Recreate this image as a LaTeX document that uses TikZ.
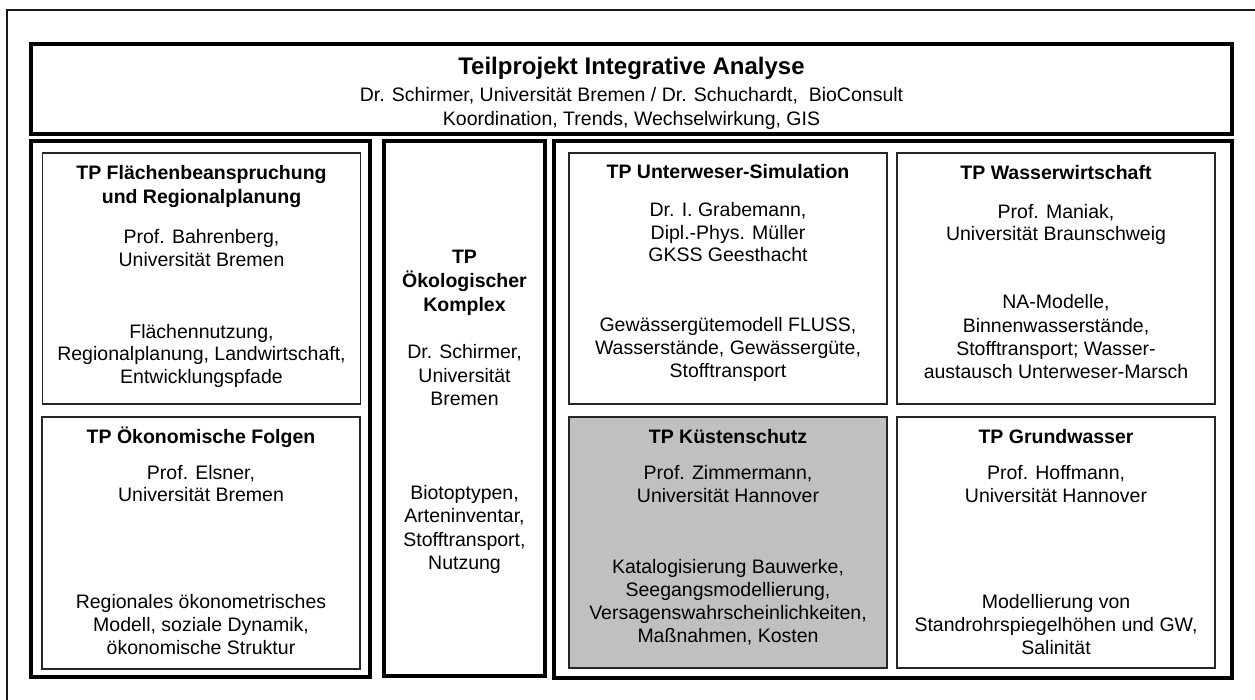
\documentclass[tikz,border=0pt]{standalone}
\usepackage{fontspec}
\setmainfont{Liberation Sans}
\newcommand\blk[2][23.3]{\vtop{\baselineskip=#1pt\lineskiplimit=-20pt\lineskip=0pt\halign{\hfil##\hfil\cr#2\crcr}}}
\definecolor{kgray}{RGB}{192,192,192}
\tikzset{
  thickbox/.style={line width=4pt, draw=black},
  thinbox/.style={line width=1.3pt, draw=black!85},
  frameline/.style={line width=2.2pt, draw=black!90},
  body/.style={anchor=base, inner sep=0pt, font=\fontsize{19.5}{23.3}\selectfont},
  head/.style={anchor=base, inner sep=0pt, font=\fontsize{19.5}{24}\selectfont\bfseries},
  ttl/.style={anchor=base, inner sep=0pt, font=\fontsize{24}{28}\selectfont\bfseries},
}
\begin{document}
\begin{tikzpicture}[x=1pt,y=-1pt]
\useasboundingbox (0,0) rectangle (1255,700);
\fill[white] (0,0) rectangle (1255,700);
% outer frame (cut off at right and bottom)
\draw[frameline] (1260,10) -- (7,10) -- (7,705);
% thick group boxes
\draw[thickbox] (31,44) rectangle (1232,134);
\draw[thickbox] (31,141) rectangle (370,677);
\draw[thickbox] (384,141) rectangle (545,676);
\draw[thickbox] (554,141) rectangle (1232,678);
% thin boxes
\draw[thinbox] (42.5,153) rectangle (360.5,404);
\draw[thinbox] (42,417) rectangle (360,669);
\draw[thinbox] (569,153) rectangle (887,404);
\draw[thinbox, fill=kgray] (569,417) rectangle (887,668);
\draw[thinbox] (897,153) rectangle (1215,404);
\draw[thinbox] (897,417) rectangle (1215,668);
% top box texts
\node[ttl] (title) at (631.5,75) {Teilprojekt Integrative Analyse};
\node[body] (lead) at (631.5,102) {\blk[24]{Dr. Schirmer, Universität Bremen / Dr. Schuchardt,\ \ BioConsult\cr Koordination, Trends, Wechselwirkung, GIS}};
% Flaechenbeanspruchung
\node[head] (h1) at (201.5,180) {\blk[24]{TP Flächenbeanspruchung\cr und Regionalplanung}};
\node[body] (p1) at (201.5,244) {\blk[22.5]{Prof. Bahrenberg,\cr Universität Bremen}};
\node[body] (t1) at (201.5,338) {\blk[22.5]{Flächennutzung,\cr Regionalplanung, Landwirtschaft,\cr Entwicklungspfade}};
% Oekonomische Folgen
\node[head] (h2) at (201,443) {TP Ökonomische Folgen};
\node[body] (p2) at (201,479) {\blk[22.5]{Prof. Elsner,\cr Universität Bremen}};
\node[body] (t2) at (201,608) {\blk{Regionales ökonometrisches\cr Modell, soziale Dynamik,\cr ökonomische Struktur}};
% Oekologischer Komplex
\node[head] (h3) at (464.5,264) {\blk[24]{TP\cr Ökologischer\cr Komplex}};
\node[body] (p3) at (464.5,359) {\blk{Dr. Schirmer,\cr Universität\cr Bremen}};
\node[body] (t3) at (464.5,499) {\blk[23.6]{Biotoptypen,\cr Arteninventar,\cr Stofftransport,\cr Nutzung}};
% Unterweser-Simulation
\node[head] (h4) at (728,179) {TP Unterweser-Simulation};
\node[body] (p4) at (728,217) {\blk[22.3]{Dr. I. Grabemann,\cr Dipl.-Phys. Müller\cr GKSS Geesthacht}};
\node[body] (t4) at (728,332) {\blk[23]{Gewässergütemodell FLUSS,\cr Wasserstände, Gewässergüte,\cr Stofftransport}};
% Kuestenschutz
\node[head] (h5) at (728,443) {TP Küstenschutz};
\node[body] (p5) at (728,479) {\blk{Prof. Zimmermann,\cr Universität Hannover}};
\node[body] (t5) at (728,573) {\blk{Katalogisierung Bauwerke,\cr Seegangsmodellierung,\cr Versagenswahrscheinlichkeiten,\cr Maßnahmen, Kosten}};
% Wasserwirtschaft
\node[head] (h6) at (1056,180) {TP Wasserwirtschaft};
\node[body] (p6) at (1056,219) {\blk[22]{Prof. Maniak,\cr Universität Braunschweig}};
\node[body] (t6) at (1056,309) {\blk{NA-Modelle,\cr Binnenwasserstände,\cr Stofftransport; Wasser-\cr austausch Unterweser-Marsch}};
% Grundwasser
\node[head] (h7) at (1056,443) {TP Grundwasser};
\node[body] (p7) at (1056,479) {\blk{Prof. Hoffmann,\cr Universität Hannover}};
\node[body] (t7) at (1056,608) {\blk{Modellierung von\cr Standrohrspiegelhöhen und GW,\cr Salinität}};
\end{tikzpicture}
\end{document}
